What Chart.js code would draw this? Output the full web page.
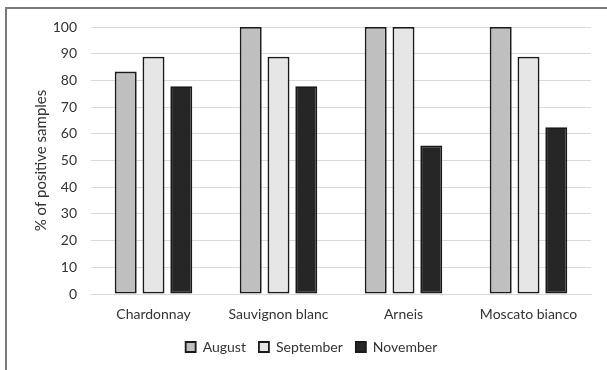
<!DOCTYPE html>
<html>
<head>
<meta charset="utf-8">
<script src="https://cdn.jsdelivr.net/npm/chart.js@4/dist/chart.umd.min.js"></script>
<style>
  html, body { margin: 0; padding: 0; background: #ffffff; }
  #wrap { position: relative; width: 607px; height: 370px; }
</style>
</head>
<body>
<div id="wrap"><canvas id="chart" width="607" height="370"></canvas></div>
<script>
// Grape varieties sampled
const varieties = ['Chardonnay', 'Sauvignon blanc', 'Arneis', 'Moscato bianco'];
// Share of positive samples (%) per sampling month
const august    = [83.3, 100, 100, 100];
const september = [88.9, 88.9, 100, 88.9];
const november  = [77.8, 77.8, 55.6, 62.5];
// Value axis ticks
const yTicks = [0, 10, 20, 30, 40, 50, 60, 70, 80, 90, 100];

const FONT = 'Lato, "Open Sans", sans-serif';
const TEXT = '#333333';

// Frame around the figure (left and top edges sit inside the canvas)
const framePlugin = {
  id: 'frame',
  beforeDraw(chart) {
    const ctx = chart.ctx;
    ctx.save();
    ctx.strokeStyle = '#7a7a7a';
    ctx.lineWidth = 2;
    ctx.beginPath();
    ctx.moveTo(6, chart.height + 2);
    ctx.lineTo(6, 8);
    ctx.lineTo(chart.width + 2, 8);
    ctx.stroke();
    ctx.restore();
  }
};

const barStyle = { borderColor: '#1a1a1a', borderWidth: 1.8, borderSkipped: false };

new Chart(document.getElementById('chart'), {
  type: 'bar',
  data: {
    labels: varieties,
    datasets: [
      Object.assign({ label: 'August',    data: august,    backgroundColor: '#bfbfbf' }, barStyle),
      Object.assign({ label: 'September', data: september, backgroundColor: '#e6e6e6' }, barStyle),
      Object.assign({ label: 'November',  data: november,  backgroundColor: '#262626' }, barStyle)
    ]
  },
  plugins: [framePlugin],
  options: {
    responsive: false,
    animation: false,
    devicePixelRatio: 1,
    categoryPercentage: 0.667,
    barPercentage: 0.79,
    layout: { padding: { left: 32, right: 16, top: 27, bottom: 6 } },
    plugins: {
      tooltip: { enabled: false },
      legend: {
        position: 'bottom',
        labels: {
          font: { family: FONT, size: 14 },
          color: TEXT,
          boxWidth: 10,
          boxHeight: 10,
          padding: 13
        }
      }
    },
    scales: {
      x: {
        grid: { display: false, drawTicks: false },
        border: { display: true, color: '#d9d9d9', width: 1 },
        ticks: { font: { family: FONT, size: 14 }, color: TEXT, padding: 12 },
        afterFit(scale) { scale.height = 33; }
      },
      y: {
        min: 0,
        max: 100,
        afterBuildTicks(scale) { scale.ticks = yTicks.map(v => ({ value: v })); },
        grid: { color: '#d9d9d9', lineWidth: 1, drawTicks: false },
        border: { display: false },
        ticks: { font: { family: FONT, size: 14 }, color: TEXT, padding: 14 },
        title: {
          display: true,
          text: '% of positive samples',
          font: { family: FONT, size: 15 },
          color: TEXT,
          padding: { top: 0, bottom: 0 }
        },
        afterFit(scale) { scale.width = 59; }
      }
    }
  }
});
</script>
</body>
</html>
